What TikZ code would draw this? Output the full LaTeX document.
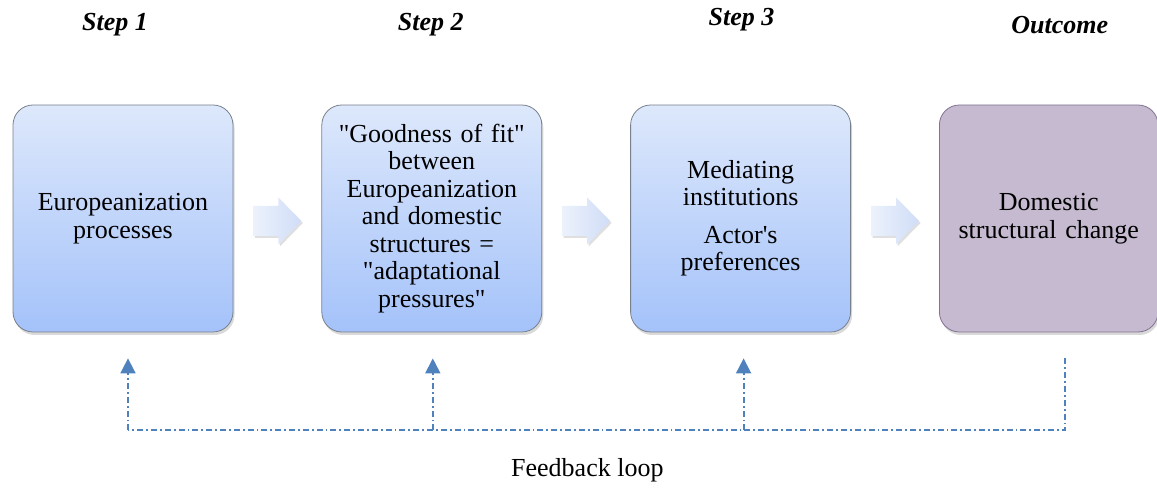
\documentclass[tikz,border=0pt]{standalone}
\usepackage{fontspec}
\setmainfont{Liberation Serif}
\usetikzlibrary{calc, positioning, shadows, arrows.meta}
\definecolor{boxtop}{RGB}{221,232,251}
\definecolor{boxbot}{RGB}{164,194,250}
\definecolor{boxedge}{RGB}{120,128,140}
\definecolor{outfill}{RGB}{197,186,208}
\definecolor{outedge}{RGB}{130,115,145}
\definecolor{fbblue}{RGB}{79,129,189}
\definecolor{arrleft}{RGB}{236,242,252}
\definecolor{arrright}{RGB}{208,221,247}
\tikzset{>=latex,
  stepbox/.style={draw=boxedge, line width=0.8pt, rounded corners=20pt,
    top color=boxtop, bottom color=boxbot,
    minimum width=220pt, minimum height=227pt, text width=212pt, align=center,
    font=\fontsize{26}{27.5}\selectfont,
    drop shadow={shadow xshift=1.5pt, shadow yshift=-3pt, opacity=0.3}},
  outbox/.style={stepbox, draw=outedge, top color=outfill, bottom color=outfill,
    minimum width=218pt},
  steplabel/.style={font=\fontsize{26}{27.5}\selectfont\bfseries\itshape},
  blockarrow/.style={left color=arrleft, right color=arrright,
    drop shadow={shadow xshift=1.5pt, shadow yshift=-2pt, opacity=0.25}},
  fbline/.style={draw=fbblue, line width=1.8pt, dash pattern=on 6pt off 3pt on 1.8pt off 3pt},
  fbarrow/.style={-{Triangle[width=15pt,length=15pt]}}
}
\begin{document}
\begin{tikzpicture}[x=1pt, y=1pt]
\useasboundingbox (0,0) rectangle (1157,489);
% boxes
\node[stepbox] (s1) at (123,270.5) {Europeanization\\processes};
\node[stepbox, right=88pt of s1] (s2) {\textquotedbl Goodness of fit\textquotedbl\\between\\Europeanization\\and domestic\\structures =\\\textquotedbl adaptational\\pressures\textquotedbl};
\node[stepbox, right=88pt of s2] (s3) {Mediating\\institutions\\[10pt]Actor\textquotesingle s\\preferences};
\node[outbox, right=88pt of s3] (s4) {Domestic\\structural change};
% headings
\node[steplabel] (l1) at ($(s1.north)+(-8,80)$) {Step 1};
\node[steplabel] (l2) at ($(s2.north)+(-1,80)$) {Step 2};
\node[steplabel] (l3) at ($(s3.north)+(1,85)$) {Step 3};
\node[steplabel] (l4) at ($(s4.north)+(11,80)$) {Outcome};
% block arrows
\foreach \i/\j in {1/2, 2/3, 3/4} {
  \coordinate (m\i) at ($(s\i.east)!0.5!(s\j.west)+(0,-2.5)$);
  \path[blockarrow] ($(m\i)+(-24,-15)$) -- ++(25,0) -- ++(0,-8.5) -- ++(23,23.5)
    -- ++(-23,23.5) -- ++(0,-8.5) -- ++(-25,0) -- cycle;
}
% feedback loop
\foreach \i/\dx in {1/5, 2/1, 3/3, 4/16} {
  \coordinate (t\i) at ($(s\i.south)+(\dx,-26)$);
  \coordinate (b\i) at ($(s\i.south)+(\dx,-98)$);
}
\foreach \i in {1,2,3}
  \draw[fbline, fbarrow] (b\i) -- (t\i);
\draw[fbline] (t4) -- (b4) -- (b1);
\node[font=\fontsize{26}{27.5}\selectfont] (fb) at ($(b1)!0.5!(b4)+(-9,-40)$) {Feedback loop};
\end{tikzpicture}
\end{document}
